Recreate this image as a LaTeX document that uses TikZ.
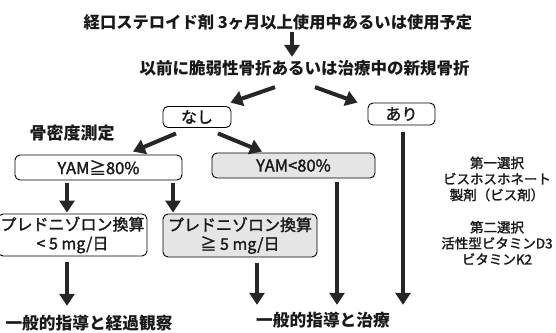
\documentclass[tikz,border=0pt]{standalone}
\usepackage{fontspec}
\setmainfont{Noto Sans CJK JP}
\newfontfamily\medfont[FakeBold=1.6]{Noto Sans CJK JP}
\usetikzlibrary{arrows.meta,calc}
\begin{document}
\begin{tikzpicture}[x=1pt,y=-1pt,
  txt/.style={inner sep=1pt, text=black!90},
  box/.style={draw=black, line width=0.9pt, rounded corners=5pt, inner sep=0pt, text=black!90},
  graybox/.style={box, fill=black!10},
  arr/.style={draw=black!85, line width=4pt, -{Triangle[width=15pt,length=12pt]}},
]
\useasboundingbox (0,0) rectangle (556,332);
\fill[white] (0,0) rectangle (556,332);

% texts
\node[txt, font=\fontsize{16.3}{18}\selectfont\bfseries] (t) at (278,22) {経口ステロイド剤 3ヶ月以上使用中あるいは使用予定};
\node[txt, font=\fontsize{16.5}{18}\selectfont\bfseries] (q) at (304.5,68) {以前に脆弱性骨折あるいは治療中の新規骨折};
\node[txt, font=\fontsize{17}{18}\selectfont\bfseries] (bmd) at (72,133) {骨密度測定};
\node[txt, font=\fontsize{16.7}{18}\selectfont\bfseries] (o1) at (89,323) {一般的指導と経過観察};
\node[txt, font=\fontsize{16.7}{18}\selectfont\bfseries] (o2) at (323,320) {一般的指導と治療};
\node[txt, align=center, font=\fontsize{13.5}{16}\selectfont\medfont] (r1) at (497,179) {第一選択\\ビスホスホネート\\製剤（ビス剤）};
\node[txt, align=center, font=\fontsize{13.5}{16}\selectfont\medfont] (r2) at (497,243) {第二選択\\活性型ビタミンD3\\ビタミンK2};

% boxes
\node[box, minimum width=68pt, minimum height=21pt, font=\fontsize{16}{18}\selectfont\medfont] (nashi) at (197,117) {なし};
\node[box, minimum width=67pt, minimum height=22pt, font=\fontsize{16}{18}\selectfont\medfont] (ari) at (401.5,114) {あり};
\node[box, minimum width=167pt, minimum height=25pt, font=\fontsize{16.5}{18}\selectfont\medfont] (ge) at (98.5,167.5) {YAM≧80\%};
\node[graybox, minimum width=163pt, minimum height=25pt, font=\fontsize{16.5}{18}\selectfont\medfont] (lt) at (293.5,165.5) {YAM<80\%};
\node[box, minimum width=149pt, minimum height=42pt, align=center, font=\fontsize{16}{19}\selectfont\medfont] (p1) at (72.5,235) {プレドニゾロン換算\\< 5 mg/日};
\node[graybox, minimum width=154pt, minimum height=43pt, align=center, font=\fontsize{16}{19}\selectfont\medfont] (p2) at (240,235.5) {プレドニゾロン換算\\≧ 5 mg/日};

% column coordinates
\coordinate (cA) at (292,0);
\coordinate (c1) at (67,0);
\coordinate (c2) at (173,0);
\coordinate (c3) at (257,0);
\coordinate (c4) at (337,0);
\coordinate (c5) at (403,0);

% connectors
\draw[arr, shorten <=1pt, shorten >=2pt] (t.south -| cA) -- (q.north -| cA);
\draw[arr] ([shift={(-29.5,10)}]q.south) -- ([shift={(-1,-3.5)}]nashi.north east);
\draw[arr] ([shift={(10.5,10)}]q.south) -- ([shift={(-10,0)}]ari.north west);
\draw[arr] ([shift={(-21,5.5)}]nashi.south) -- ([shift={(34.5,-3)}]ge.north);
\draw[arr] ([shift={(21,5.5)}]nashi.south) -- ([shift={(-31.5,-1)}]lt.north);
\draw[arr, shorten <=3pt, shorten >=1pt] (ge.south -| c1) -- (p1.north -| c1);
\draw[arr, shorten <=3pt, shorten >=1pt] (ge.south -| c2) -- (p2.north -| c2);
\draw[arr, shorten <=6pt, shorten >=8pt] (p1.south -| c1) -- (o1.north -| c1);
\draw[arr, shorten <=6pt, shorten >=6pt] (p2.south -| c3) -- (o2.north -| c3);
\draw[arr, shorten <=4pt, shorten >=6pt] (lt.south -| c4) -- (o2.north -| c4);
\draw[arr, shorten <=7pt, shorten >=6pt] (ari.south -| c5) -- (o2.north -| c5);
\end{tikzpicture}
\end{document}
